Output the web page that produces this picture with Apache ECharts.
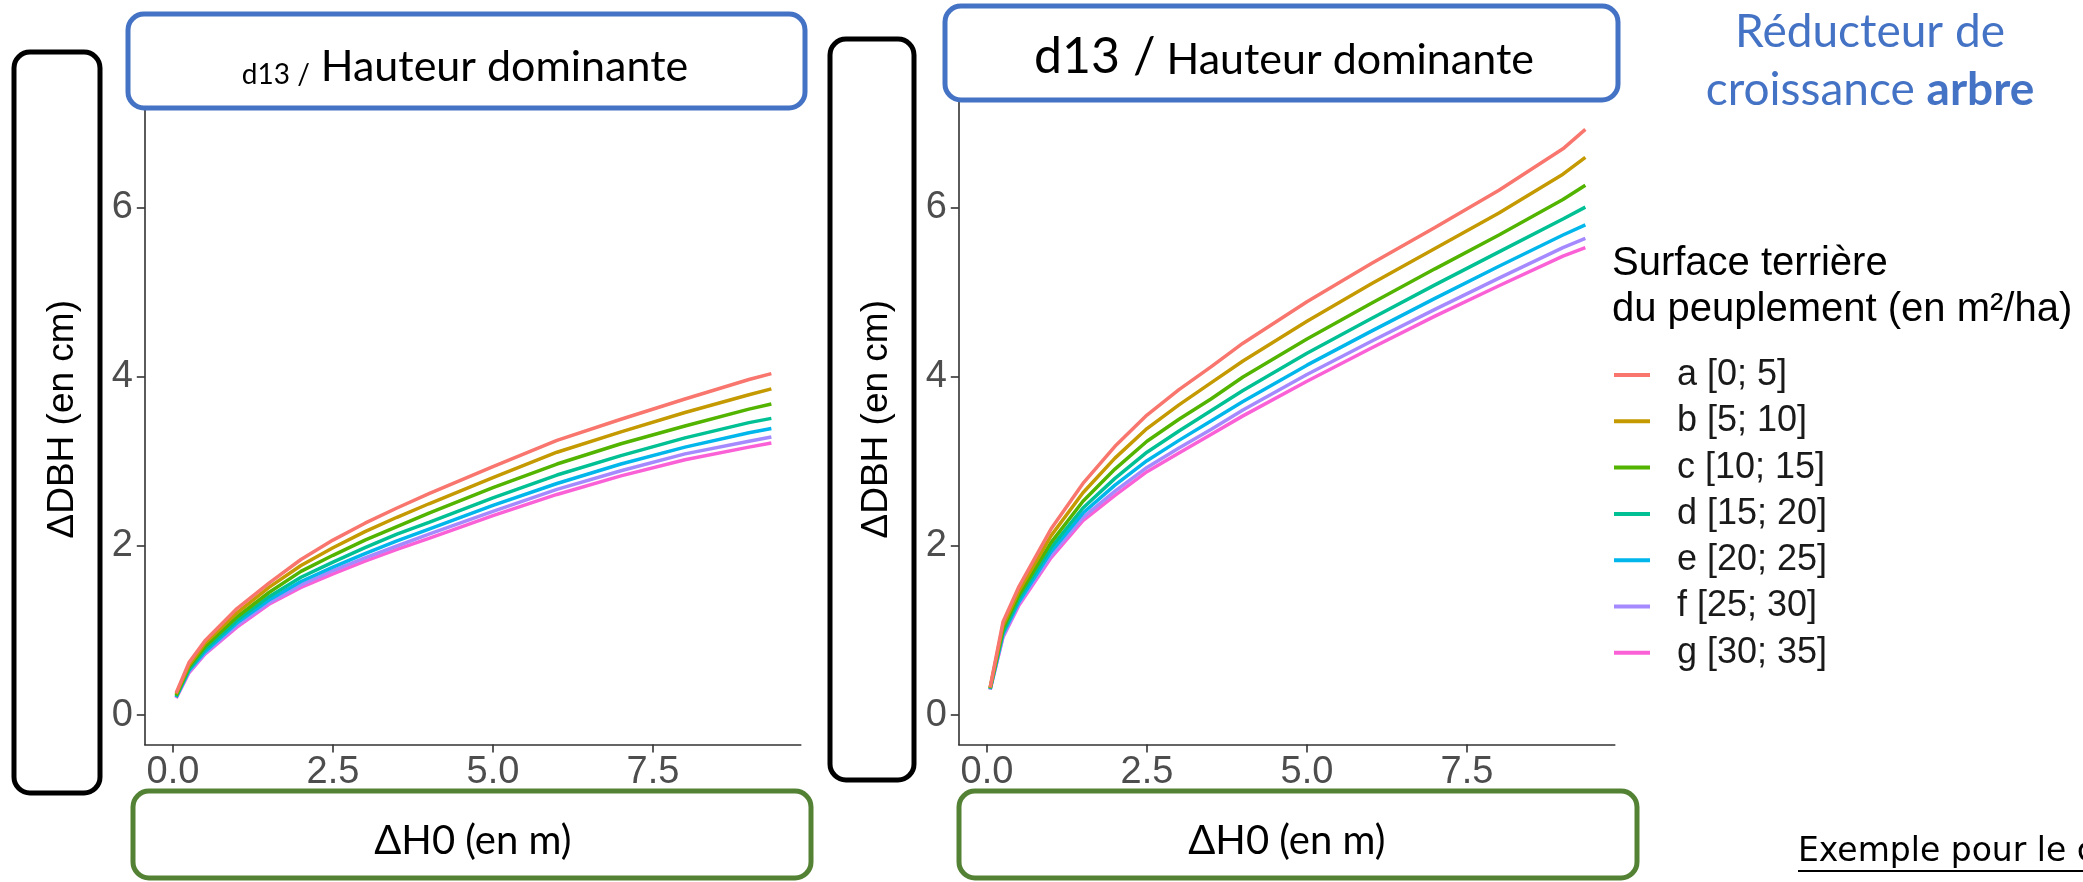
<!DOCTYPE html>
<html><head><meta charset="utf-8">
<script src="https://cdn.jsdelivr.net/npm/echarts@6/dist/echarts.min.js"></script>
<style>html,body{margin:0;padding:0;background:#fff;overflow:hidden}#c{width:2083px;height:882px}</style>
</head><body><div id="c"></div>
<script>
// ---- data ----
const xValues = [0.05, 0.25, 0.5, 1, 1.5, 2, 2.5, 3, 3.5, 4, 5, 6, 7, 8, 9, 9.35];
const groups = ['a [0; 5]', 'b [5; 10]', 'c [10; 15]', 'd [15; 20]', 'e [20; 25]', 'f [25; 30]', 'g [30; 35]'];
const xTickValues = [0, 2.5, 5, 7.5];
const xTickLabels = ['0.0', '2.5', '5.0', '7.5'];
const yTickValues = [0, 2, 4, 6];
const yTickLabels = ['0', '2', '4', '6'];

// left panel : d13 / Hauteur dominante (small d13)
const left_a = [0.26, 0.62, 0.88, 1.26, 1.56, 1.84, 2.07, 2.27, 2.45, 2.62, 2.94, 3.25, 3.50, 3.74, 3.97, 4.04];
const left_b = [0.25, 0.59, 0.85, 1.21, 1.51, 1.77, 1.98, 2.17, 2.34, 2.50, 2.81, 3.11, 3.35, 3.58, 3.79, 3.86];
const left_c = [0.23, 0.57, 0.81, 1.16, 1.45, 1.70, 1.89, 2.07, 2.23, 2.39, 2.69, 2.97, 3.21, 3.42, 3.62, 3.68];
const left_d = [0.22, 0.54, 0.78, 1.12, 1.40, 1.63, 1.81, 1.98, 2.14, 2.28, 2.57, 2.84, 3.07, 3.28, 3.46, 3.51];
const left_e = [0.21, 0.53, 0.75, 1.09, 1.36, 1.58, 1.75, 1.91, 2.06, 2.20, 2.48, 2.74, 2.97, 3.17, 3.34, 3.39];
const left_f = [0.21, 0.51, 0.73, 1.06, 1.33, 1.54, 1.71, 1.86, 2.00, 2.14, 2.41, 2.67, 2.89, 3.09, 3.24, 3.29];
const left_g = [0.20, 0.50, 0.72, 1.04, 1.31, 1.51, 1.67, 1.82, 1.96, 2.09, 2.36, 2.61, 2.83, 3.02, 3.17, 3.22];

// right panel : d13 / Hauteur dominante (large d13)
const right_a = [0.33, 1.10, 1.52, 2.20, 2.74, 3.18, 3.55, 3.85, 4.12, 4.40, 4.89, 5.34, 5.77, 6.21, 6.70, 6.93];
const right_b = [0.32, 1.06, 1.47, 2.12, 2.63, 3.04, 3.39, 3.67, 3.93, 4.19, 4.66, 5.10, 5.52, 5.94, 6.40, 6.60];
const right_c = [0.32, 1.02, 1.42, 2.04, 2.53, 2.91, 3.24, 3.50, 3.74, 4.00, 4.45, 4.87, 5.28, 5.68, 6.10, 6.27];
const right_d = [0.31, 0.98, 1.38, 1.98, 2.45, 2.80, 3.11, 3.36, 3.60, 3.84, 4.28, 4.69, 5.09, 5.48, 5.87, 6.01];
const right_e = [0.31, 0.96, 1.34, 1.93, 2.39, 2.72, 3.01, 3.25, 3.48, 3.71, 4.14, 4.54, 4.93, 5.31, 5.68, 5.80];
const right_f = [0.30, 0.93, 1.32, 1.89, 2.34, 2.65, 2.93, 3.16, 3.38, 3.61, 4.03, 4.42, 4.80, 5.17, 5.53, 5.64];
const right_g = [0.30, 0.92, 1.30, 1.86, 2.30, 2.60, 2.88, 3.10, 3.32, 3.54, 3.95, 4.34, 4.72, 5.08, 5.43, 5.53];

const leftSeries = [left_a, left_b, left_c, left_d, left_e, left_f, left_g];
const rightSeries = [right_a, right_b, right_c, right_d, right_e, right_f, right_g];

// ---- styles ----
const palette = ['#F8766D', '#C49A00', '#53B400', '#00C094', '#00B6EB', '#A58AFF', '#FB61D7'];
const ARIAL = "'Liberation Sans', Arial, sans-serif";
const CALIBRI = "Lato, 'Open Sans', sans-serif";
const TAHOMA = "'DejaVu Sans', Verdana, sans-serif";

function makeX(gi) {
  return {
    type: 'value', gridIndex: gi, min: -0.44, max: 9.81,
    splitLine: { show: false },
    axisLine: { show: true, onZero: false, lineStyle: { color: '#333', width: 1.6 } },
    axisTick: { show: true, length: 8, customValues: xTickValues, lineStyle: { color: '#333', width: 1.6 } },
    axisLabel: { customValues: xTickValues, formatter: v => xTickLabels[xTickValues.indexOf(v)],
      fontFamily: ARIAL, fontSize: 38, color: '#4D4D4D', margin: 9 },
    name: 'ΔH0 (en m)', nameLocation: 'middle', nameGap: 76,
    nameTextStyle: { fontFamily: CALIBRI, fontSize: 40, color: '#000' }
  };
}
function makeY(gi) {
  return {
    type: 'value', gridIndex: gi, min: -0.35, max: 7.35,
    splitLine: { show: false },
    axisLine: { show: true, onZero: false, lineStyle: { color: '#333', width: 1.6 } },
    axisTick: { show: true, length: 8, customValues: yTickValues, lineStyle: { color: '#333', width: 1.6 } },
    axisLabel: { customValues: yTickValues, formatter: v => yTickLabels[yTickValues.indexOf(v)],
      fontFamily: ARIAL, fontSize: 38, color: '#4D4D4D', margin: 12 },
    name: 'ΔDBH (en cm)', nameLocation: 'middle', nameRotate: 90, nameGap: 64,
    nameTextStyle: { fontFamily: ARIAL, fontSize: 37, color: '#000' }
  };
}

const series = [];
[leftSeries, rightSeries].forEach((set, gi) => {
  set.forEach((arr, k) => {
    series.push({
      type: 'line', name: groups[k], xAxisIndex: gi, yAxisIndex: gi,
      data: xValues.map((x, i) => [x, arr[i]]),
      showSymbol: false, smooth: false,
      lineStyle: { width: 3.5, color: palette[k] }, itemStyle: { color: palette[k] },
      z: 2 + (6 - k)
    });
  });
});

function box(x1, y1, x2, y2, stroke, fill) {
  return { type: 'rect', z: 100, shape: { x: x1, y: y1, width: x2 - x1, height: y2 - y1, r: 16 },
    style: { fill: fill || 'none', stroke: stroke, lineWidth: 5 } };
}

const chart = echarts.init(document.getElementById('c'));
chart.setOption({
  animation: false,
  backgroundColor: '#fff',
  color: palette,
  grid: [
    { left: 144.8, top: 93.9, width: 656, height: 650.7 },
    { left: 958.8, top: 93.9, width: 656, height: 650.7 }
  ],
  xAxis: [makeX(0), makeX(1)],
  yAxis: [makeY(0), makeY(1)],
  legend: {
    orient: 'vertical', left: 1614, top: 355, icon: 'rect', itemWidth: 36, itemHeight: 4,
    itemGap: 6.3, padding: 0, data: groups,
    textStyle: { fontFamily: ARIAL, fontSize: 36, color: '#1a1a1a', lineHeight: 40, padding: [0, 0, 0, 22] }
  },
  series: series,
  graphic: [
    box(128, 14, 805, 108, '#4472C4', '#fff'),
    box(945, 6, 1618, 100, '#4472C4', '#fff'),
    box(14, 52, 100, 793, '#000'),
    box(830, 39, 914, 780, '#000'),
    box(133, 791, 811, 878, '#548235'),
    box(959, 791, 1637, 878, '#548235'),
    { type: 'text', z: 110, x: 465, y: 63, style: {
        text: '{s|d13 /} {h|Hauteur dominante}', align: 'center', verticalAlign: 'middle',
        fontFamily: CALIBRI, fontSize: 43, fill: '#000',
        rich: { s: { fontFamily: CALIBRI, fontSize: 28, verticalAlign: 'bottom', lineHeight: 52 },
                h: { fontFamily: CALIBRI, fontSize: 43, verticalAlign: 'bottom', lineHeight: 52 } } } },
    { type: 'text', z: 110, x: 1284, y: 52, style: {
        text: '{s|d13 /} {h|Hauteur dominante}', align: 'center', verticalAlign: 'middle',
        fontFamily: CALIBRI, fontSize: 43, fill: '#000',
        rich: { s: { fontFamily: CALIBRI, fontSize: 50, verticalAlign: 'bottom', lineHeight: 60 },
                h: { fontFamily: CALIBRI, fontSize: 43, verticalAlign: 'bottom', lineHeight: 60 } } } },
    { type: 'text', z: 110, x: 1870, y: 32, style: {
        text: 'Réducteur de', align: 'center', verticalAlign: 'middle',
        fontFamily: CALIBRI, fontSize: 46, fill: '#4472C4' } },
    { type: 'text', z: 110, x: 1870, y: 90, style: {
        text: 'croissance {b|arbre}', align: 'center', verticalAlign: 'middle',
        fontFamily: CALIBRI, fontSize: 46, fill: '#4472C4',
        rich: { b: { fontFamily: CALIBRI, fontSize: 46, fontWeight: 'bold', fill: '#4472C4' } } } },
    { type: 'text', z: 110, x: 1612, y: 264, style: {
        text: 'Surface terrière', align: 'left', verticalAlign: 'middle',
        fontFamily: ARIAL, fontSize: 40, fill: '#000' } },
    { type: 'text', z: 110, x: 1612, y: 310, style: {
        text: 'du peuplement (en m²/ha)', align: 'left', verticalAlign: 'middle',
        fontFamily: ARIAL, fontSize: 40, fill: '#000' } },
    { type: 'text', z: 110, x: 1798, y: 852, style: {
        text: 'Exemple pour le c', align: 'left', verticalAlign: 'middle',
        fontFamily: TAHOMA, fontSize: 33, fill: '#000' } },
    { type: 'line', z: 110, shape: { x1: 1798, y1: 871, x2: 2083, y2: 871 }, style: { stroke: '#000', lineWidth: 2 } }
  ]
});
</script></body></html>
